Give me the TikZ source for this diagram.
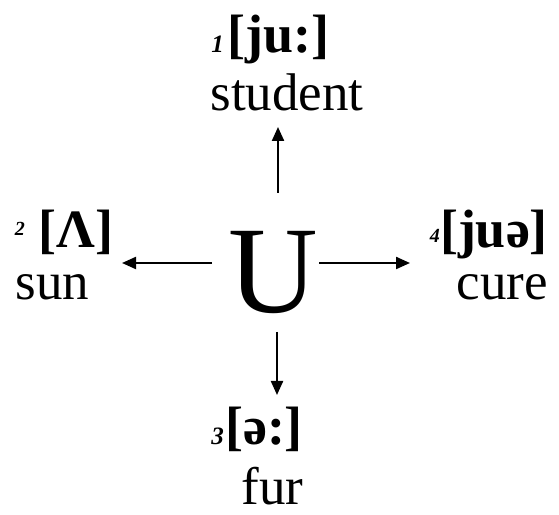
\documentclass[tikz,border=0pt]{standalone}
\usepackage{fontspec}
\setmainfont{Liberation Serif}
\usetikzlibrary{arrows.meta}
\begin{document}
\begin{tikzpicture}[x=1pt,y=1pt,
  lbl/.style={inner sep=0pt,anchor=base,font=\fontsize{53}{53}\selectfont},
  ipa/.style={inner sep=0pt,anchor=base,font=\fontsize{54}{54}\selectfont\bfseries},
  numbig/.style={inner sep=0pt,anchor=base east,font=\fontsize{25}{25}\selectfont\bfseries\itshape},
  numsmall/.style={inner sep=0pt,anchor=base east,font=\fontsize{20}{20}\selectfont\bfseries\itshape},
  arr/.style={line width=2.2pt,-{Triangle[length=14pt,width=12pt]}}]
\useasboundingbox (0,0) rectangle (559,514);
\node[inner sep=0pt,anchor=base,font=\fontsize{124}{124}\selectfont] (U) at (273.5,201) {U};
% top
\node[ipa] (t1) at (278.5,461) {[ju:]};
\node[numbig] (n1) at (224,461) {1};
\node[lbl] (t1b) at (287,403) {student};
% left
\node[ipa] (t2) at (76,266.5) {[Λ]};
\node[numsmall] (n2) at (25,278) {2};
\node[lbl] (t2b) at (52.5,214) {sun};
% right
\node[ipa] (t4) at (494,266.5) {[juə]};
\node[numsmall] (n4) at (440,271) {4};
\node[lbl] (t4b) at (502.5,214) {cure};
% bottom
\node[ipa] (t3) at (264,69.5) {[ə:]};
\node[numbig] (n3) at (224,70) {3};
\node[lbl] (t3b) at (272.5,10) {fur};
\coordinate (us) at (278,321); \coordinate (ue) at (278,387);
\coordinate (ls) at (212,251); \coordinate (le) at (122,251);
\coordinate (rs) at (319,251); \coordinate (re) at (410,251);
\coordinate (ds) at (277,182); \coordinate (de) at (277,119);
\draw[arr] (us) -- (ue);
\draw[arr] (ls) -- (le);
\draw[arr] (rs) -- (re);
\draw[arr] (ds) -- (de);
\end{tikzpicture}
\end{document}
